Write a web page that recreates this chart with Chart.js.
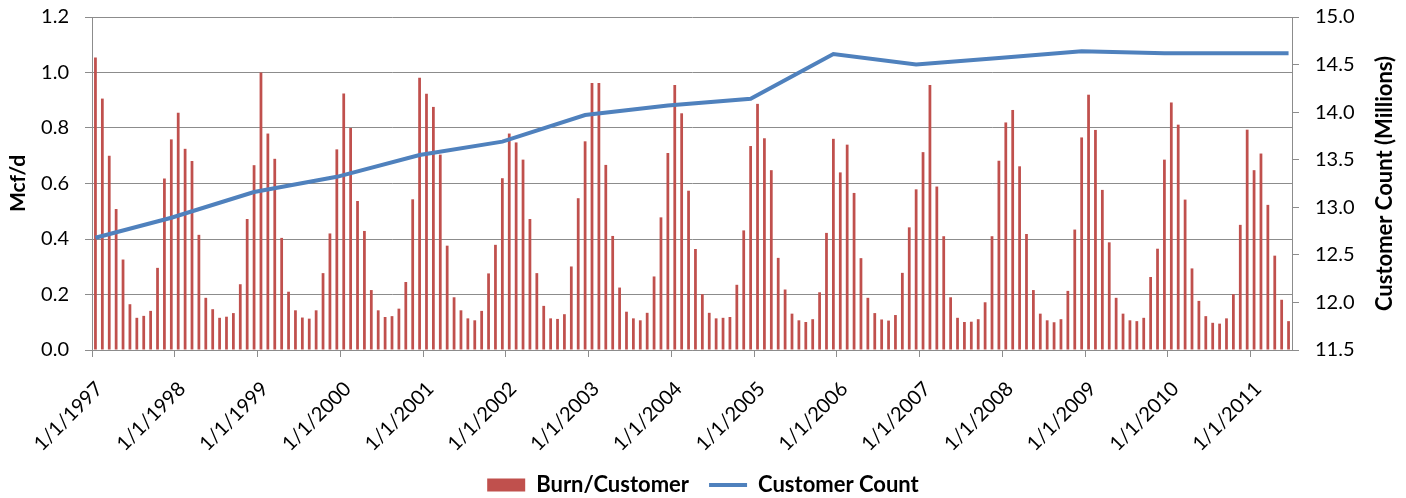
<!DOCTYPE html>
<html>
<head>
<meta charset="utf-8">
<script src="https://cdn.jsdelivr.net/npm/chart.js@4.4.0/dist/chart.umd.min.js"></script>
<style>
  html, body { margin: 0; padding: 0; background: #fff; }
</style>
</head>
<body>
<canvas id="burnChart" width="1406" height="498"></canvas>
<script>
// monthly data, Jan 1997 .. Jun 2011
const years = [1997, 1998, 1999, 2000, 2001, 2002, 2003, 2004, 2005, 2006, 2007, 2008, 2009, 2010, 2011];
const monthsInLastYear = 6;

// Mcf/d per customer, one row per year
const burnPerCustomer = [
  1.054, 0.906, 0.700, 0.508, 0.326, 0.165, 0.116, 0.123, 0.141, 0.296, 0.618, 0.759,
  0.855, 0.725, 0.681, 0.415, 0.188, 0.147, 0.116, 0.120, 0.133, 0.237, 0.472, 0.666,
  1.000, 0.780, 0.689, 0.404, 0.210, 0.143, 0.117, 0.113, 0.143, 0.277, 0.420, 0.723,
  0.924, 0.800, 0.537, 0.429, 0.216, 0.143, 0.119, 0.122, 0.149, 0.245, 0.543, 0.981,
  0.923, 0.876, 0.704, 0.376, 0.190, 0.143, 0.114, 0.107, 0.141, 0.276, 0.379, 0.619,
  0.780, 0.748, 0.686, 0.472, 0.277, 0.159, 0.114, 0.112, 0.129, 0.301, 0.547, 0.752,
  0.962, 0.962, 0.667, 0.411, 0.225, 0.138, 0.114, 0.107, 0.134, 0.265, 0.478, 0.710,
  0.955, 0.853, 0.574, 0.364, 0.201, 0.134, 0.114, 0.116, 0.119, 0.235, 0.431, 0.735,
  0.887, 0.763, 0.648, 0.332, 0.218, 0.131, 0.107, 0.101, 0.111, 0.208, 0.422, 0.761,
  0.640, 0.740, 0.566, 0.331, 0.188, 0.133, 0.110, 0.106, 0.126, 0.278, 0.442, 0.579,
  0.713, 0.955, 0.589, 0.410, 0.190, 0.116, 0.101, 0.102, 0.111, 0.172, 0.410, 0.682,
  0.820, 0.865, 0.662, 0.418, 0.216, 0.131, 0.107, 0.100, 0.111, 0.213, 0.434, 0.766,
  0.920, 0.793, 0.577, 0.388, 0.188, 0.131, 0.107, 0.104, 0.116, 0.263, 0.365, 0.686,
  0.892, 0.812, 0.542, 0.294, 0.177, 0.122, 0.098, 0.095, 0.114, 0.201, 0.451, 0.794,
  0.648, 0.708, 0.523, 0.340, 0.181, 0.104
];

// customer count (millions), year-end points
const countDates = ["1/1/1997", "12/1/1997", "12/1/1998", "12/1/1999", "12/1/2000", "12/1/2001",
  "12/1/2002", "12/1/2003", "12/1/2004", "12/1/2005", "12/1/2006", "12/1/2007",
  "12/1/2008", "12/1/2009", "12/1/2010", "6/1/2011"];
const customerCount = [12.68, 12.89, 13.16, 13.32, 13.55, 13.69,
  13.97, 14.07, 14.14, 14.61, 14.50, 14.57,
  14.64, 14.62, 14.62, 14.62];

const mcfTicks = [0, 0.2, 0.4, 0.6, 0.8, 1.0, 1.2];
const countTicks = [11.5, 12.0, 12.5, 13.0, 13.5, 14.0, 14.5, 15.0];

const monthLabels = [];
years.forEach((y, i) => {
  const n = i === years.length - 1 ? monthsInLastYear : 12;
  for (let m = 1; m <= n; m++) monthLabels.push(m + "/1/" + y);
});

const gridGray = "#8c8c8c";
const font = "Lato";

const rightTitle = {
  id: "rightTitle",
  afterDraw(chart) {
    const ctx = chart.ctx;
    const area = chart.chartArea;
    ctx.save();
    ctx.font = "bold 22px " + font;
    ctx.fillStyle = "#000";
    ctx.textAlign = "center";
    ctx.textBaseline = "middle";
    ctx.translate(chart.width - 21, (area.top + area.bottom) / 2);
    ctx.rotate(-Math.PI / 2);
    ctx.fillText("Customer Count (Millions)", 0, 0);
    ctx.restore();
  }
};

// keep the tick padding from pushing the plot area down
const trimPadding = (s) => { s.paddingTop = 12; s.paddingBottom = 12; };

const ctx = document.getElementById("burnChart").getContext("2d");
new Chart(ctx, {
  type: "bar",
  data: {
    labels: monthLabels,
    datasets: [
      {
        label: "Burn/Customer",
        data: burnPerCustomer,
        backgroundColor: "#C0504D",
        borderWidth: 0,
        barPercentage: 0.4,
        categoryPercentage: 1.0,
        yAxisID: "y",
        order: 1,
        pointStyle: "rect"
      },
      {
        type: "line",
        label: "Customer Count",
        data: countDates.map((d, i) => ({ x: d, y: customerCount[i] })),
        borderColor: "#4F81BD",
        backgroundColor: "#4F81BD",
        borderWidth: 4,
        pointRadius: 0,
        tension: 0,
        yAxisID: "y2",
        order: 0,
        pointStyle: "line"
      }
    ]
  },
  options: {
    responsive: false,
    animation: false,
    layout: { padding: { top: 17, left: 0, right: 0, bottom: -8 } },
    plugins: {
      tooltip: { enabled: false },
      legend: {
        position: "bottom",
        labels: {
          usePointStyle: true,
          pointStyleWidth: 38,
          boxHeight: 13,
          padding: 20,
          color: "#000",
          font: { family: font, size: 22, weight: "bold" },
          sort: (a, b) => a.datasetIndex - b.datasetIndex
        }
      }
    },
    scales: {
      x: {
        offset: true,
        grid: {
          offset: true,
          drawOnChartArea: false,
          tickLength: 7,
          color: (c) => (c.index % 12 === 0 ? gridGray : "rgba(0,0,0,0)")
        },
        border: { color: gridGray },
        ticks: {
          autoSkip: false,
          minRotation: 45,
          maxRotation: 45,
          padding: 20,
          labelOffset: 4,
          color: "#000",
          font: { family: font, size: 20 },
          callback: function (v, i) {
            return i % 12 === 0 ? "1/1/" + years[i / 12] : "";
          }
        },
        afterFit: (s) => { s.height = 104; }
      },
      y: {
        position: "left",
        min: 0,
        max: 1.2,
        afterBuildTicks: (s) => { s.ticks = mcfTicks.map((v) => ({ value: v })); },
        grid: { color: gridGray, tickLength: 7 },
        border: { color: gridGray },
        ticks: {
          padding: 16,
          color: "#000",
          font: { family: font, size: 20 },
          callback: (v) => v.toFixed(1)
        },
        title: {
          display: true,
          text: "Mcf/d",
          color: "#000",
          font: { family: font, size: 21, weight: "bold" },
          padding: { top: 6, bottom: 0 }
        },
        afterFit: (s) => { s.width = 92; trimPadding(s); }
      },
      y2: {
        position: "right",
        min: 11.5,
        max: 15,
        afterBuildTicks: (s) => { s.ticks = countTicks.map((v) => ({ value: v })); },
        grid: { drawOnChartArea: false, color: gridGray, tickLength: 7 },
        border: { color: gridGray },
        ticks: {
          padding: 16,
          color: "#000",
          font: { family: font, size: 20 },
          callback: (v) => v.toFixed(1)
        },
        afterFit: (s) => { s.width = 114; trimPadding(s); }
      }
    }
  },
  plugins: [rightTitle]
});
</script>
</body>
</html>
